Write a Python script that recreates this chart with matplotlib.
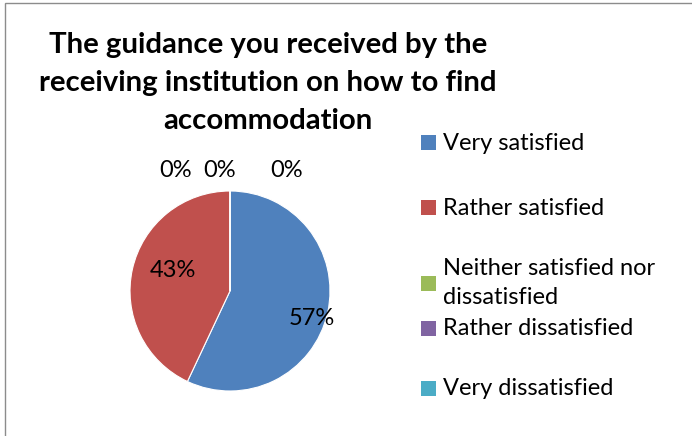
import matplotlib
matplotlib.use("Agg")
import matplotlib.pyplot as plt
import numpy as np
from matplotlib.patches import Rectangle

plt.rcParams['font.family'] = ['Lato', 'DejaVu Sans']

title = "The guidance you received by the\nreceiving institution on how to find\naccommodation"
categories = ["Very satisfied", "Rather satisfied", "Neither satisfied nor\ndissatisfied",
              "Rather dissatisfied", "Very dissatisfied"]
values = [57, 43, 0, 0, 0]
pct_labels = ["57%", "43%", "0%", "0%", "0%"]
colors = ["#4F81BD", "#C0504D", "#9BBB59", "#8064A2", "#4BACC6"]

W, H = 692, 436
fig = plt.figure(figsize=(W / 100, H / 100), dpi=100)

def fx(px):
    return px / W

def fy(py):
    return 1 - py / H

# outer frame
fig.patches.append(Rectangle((fx(5), fy(440)), fx(700) - fx(5), fy(3) - fy(440),
                             transform=fig.transFigure, fill=False,
                             edgecolor="#8c8c8c", linewidth=1.0))

# title
fig.text(fx(268), fy(83), title, ha="center", va="center", fontsize=21.2,
         fontweight="bold", linespacing=1.56, color="black")

# pie
cx, cy, r = 230, 291, 100
ax = fig.add_axes([fx(cx - r), fy(cy + r), fx(2 * r), fy(cy - r) - fy(cy + r)])
ax.pie(values, colors=colors, startangle=90, counterclock=False,
       wedgeprops=dict(linewidth=0.8, edgecolor="white"))
ax.set_xlim(-1, 1)
ax.set_ylim(-1, 1)
ax.set_aspect("equal")
ax.axis("off")

# percentage labels
label_pos = [(0.82, -0.27), (-0.57, 0.21), (-0.54, 1.21), (-0.1, 1.21), (0.57, 1.21)]
for (lx, ly), lab in zip(label_pos, pct_labels):
    ax.text(lx, ly, lab, ha="center", va="center", fontsize=17, color="black",
            clip_on=False)

# legend
leg_y = [143, 208, 283, 328, 388]
for i, (cat, col) in enumerate(zip(categories, colors)):
    y = leg_y[i]
    fig.patches.append(Rectangle((fx(421), fy(y + 7.5)), fx(15), fy(0) - fy(15),
                                 transform=fig.transFigure, facecolor=col,
                                 edgecolor="none"))
    fig.text(fx(443), fy(y), cat, ha="left", va="center", fontsize=17,
             linespacing=1.42, color="black")

fig.savefig("out.png", dpi=100)
